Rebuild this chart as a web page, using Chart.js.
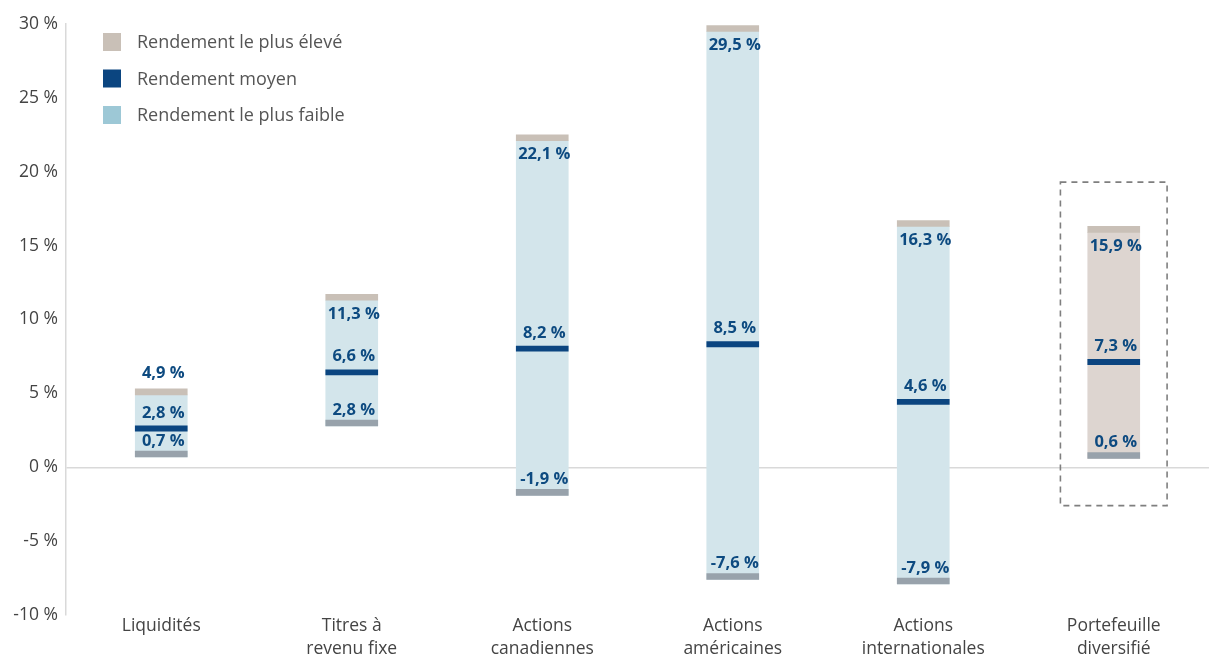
<!DOCTYPE html>
<html lang="fr">
<head>
<meta charset="utf-8">
<script src="https://cdn.jsdelivr.net/npm/chart.js"></script>
<style>
  html, body { margin: 0; padding: 0; background: #fff; }
  #wrap { width: 1209px; height: 654px; position: relative; }
</style>
</head>
<body>
<div id="wrap"><canvas id="rangeChart"></canvas></div>
<script>
// données (en %)
const categories = [
  "Liquidités",
  ["Titres à", "revenu fixe"],
  ["Actions", "canadiennes"],
  ["Actions", "américaines"],
  ["Actions", "internationales"],
  ["Portefeuille", "diversifié"]
];
const highest = [4.9, 11.3, 22.1, 29.5, 16.3, 15.9];
const average = [2.8, 6.6, 8.2, 8.5, 4.6, 7.3];
const lowest = [0.7, 2.8, -1.9, -7.6, -7.9, 0.6];
const yTicks = [-10, -5, 0, 5, 10, 15, 20, 25, 30];

const legendItems = [
  { text: "Rendement le plus élevé", color: "#c9c0b7" },
  { text: "Rendement moyen", color: "#0b4580" },
  { text: "Rendement le plus faible", color: "#9dc8d6" }
];

const FONT = "'Open Sans', 'Noto Sans', sans-serif";
const CAP = 0.4;
const LINE = 0.35;

function fmt(v) {
  return v.toFixed(1).replace(".", ",") + " %";
}

const fillColors = categories.map((c, i) => i === categories.length - 1 ? "#ddd5d0" : "#d3e5eb");

const labelsPlugin = {
  id: "rangeLabels",
  afterDatasetsDraw(chart) {
    const ctx = chart.ctx;
    const x = chart.scales.x;
    const y = chart.scales.y;
    ctx.save();
    ctx.font = "bold 16.5px " + FONT;
    ctx.fillStyle = "#0d4a80";
    ctx.textAlign = "center";
    ctx.textBaseline = "middle";
    categories.forEach((c, i) => {
      const cx = x.getPixelForValue(i) + 2;
      if (highest[i] - average[i] < 3) {
        ctx.fillText(fmt(highest[i]), cx, y.getPixelForValue(highest[i] + CAP) - 16);
      } else {
        ctx.fillText(fmt(highest[i]), cx, y.getPixelForValue(highest[i]) + 14);
      }
      ctx.fillText(fmt(average[i]), cx, y.getPixelForValue(average[i]) - 13);
      ctx.fillText(fmt(lowest[i]), cx, y.getPixelForValue(lowest[i] + CAP) - 10);
    });
    ctx.restore();
  }
};

const legendPlugin = {
  id: "boxLegend",
  afterDraw(chart) {
    const ctx = chart.ctx;
    ctx.save();
    ctx.font = "18px " + FONT;
    ctx.textBaseline = "middle";
    legendItems.forEach((item, k) => {
      const cy = 42 + k * 36.5;
      ctx.fillStyle = item.color;
      ctx.fillRect(103, cy - 9, 18, 18);
      ctx.fillStyle = "#555";
      ctx.fillText(item.text, 137, cy + 1);
    });
    ctx.restore();
  }
};

const highlightPlugin = {
  id: "highlightBox",
  afterDraw(chart) {
    const opts = chart.options.plugins.highlightBox;
    const x = chart.scales.x;
    const y = chart.scales.y;
    const cx = x.getPixelForValue(opts.index);
    const half = x.width / categories.length * 0.28;
    const top = y.getPixelForValue(opts.top);
    const bottom = y.getPixelForValue(opts.bottom);
    const ctx = chart.ctx;
    ctx.save();
    ctx.strokeStyle = "#7f7f7f";
    ctx.lineWidth = 1.6;
    ctx.setLineDash([6, 5]);
    ctx.strokeRect(cx - half, top, half * 2, bottom - top);
    ctx.restore();
  }
};

const barBase = {
  type: "bar",
  grouped: false,
  barThickness: 52,
  borderWidth: 0,
  borderSkipped: false
};

new Chart(document.getElementById("rangeChart"), {
  type: "bar",
  data: {
    labels: categories,
    datasets: [
      Object.assign({}, barBase, {
        label: "Rendement le plus faible",
        data: lowest.map((v, i) => [v, highest[i]]),
        backgroundColor: fillColors,
        order: 3
      }),
      Object.assign({}, barBase, {
        label: "Rendement le plus élevé",
        data: highest.map(v => [v, v + CAP]),
        backgroundColor: "#c9c0b7",
        order: 2
      }),
      Object.assign({}, barBase, {
        label: "Minimum",
        data: lowest.map(v => [v, v + CAP]),
        backgroundColor: "#98a2ab",
        order: 2
      }),
      Object.assign({}, barBase, {
        label: "Rendement moyen",
        data: average.map(v => [v - LINE, v]),
        backgroundColor: "#0b4580",
        order: 1
      })
    ]
  },
  options: {
    responsive: true,
    maintainAspectRatio: false,
    animation: false,
    layout: { padding: { top: 24, right: 0, bottom: 0, left: 0 } },
    plugins: {
      legend: { display: false },
      tooltip: { enabled: false },
      highlightBox: { index: 5, top: 19.3, bottom: -2.6 }
    },
    scales: {
      x: {
        grid: { display: false, drawTicks: false },
        border: { display: false },
        ticks: {
          padding: 0,
          color: "#444",
          font: { family: FONT, size: 17.5, lineHeight: 1.28 },
          maxRotation: 0,
          autoSkip: false
        },
        afterFit: s => { s.height = 39; }
      },
      y: {
        min: -10,
        max: 30,
        afterBuildTicks: s => { s.ticks = yTicks.map(v => ({ value: v })); },
        afterFit: s => { s.width = 66; },
        grid: {
          drawTicks: false,
          color: c => c.tick && c.tick.value === 0 ? "#d9d9d9" : "rgba(0,0,0,0)",
          lineWidth: 1.5
        },
        border: { display: true, color: "#d9d9d9", width: 1.5 },
        ticks: {
          padding: 8,
          color: "#444",
          font: { family: FONT, size: 17.5 },
          callback: v => v + " %"
        }
      }
    }
  },
  plugins: [labelsPlugin, legendPlugin, highlightPlugin]
});
</script>
</body>
</html>
